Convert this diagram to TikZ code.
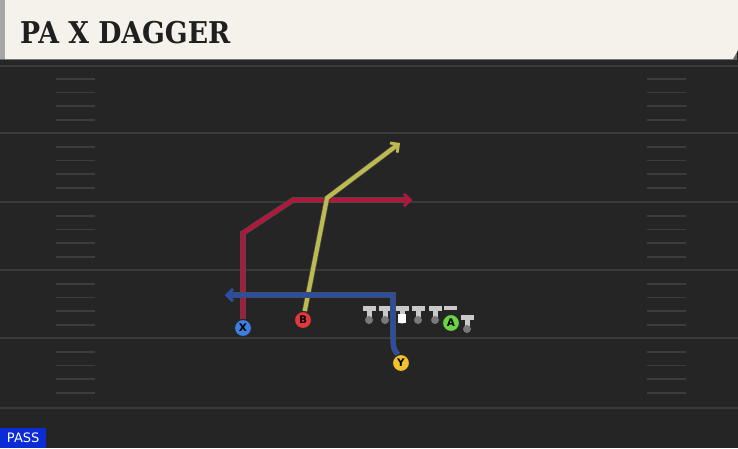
\documentclass[tikz,border=0pt]{standalone}
\usepackage{fontspec}
\newfontfamily\titlefont{DejaVu Serif}
\newfontfamily\tagfont{DejaVu Sans}
\usepackage{tikz}
\usetikzlibrary{arrows.meta,calc}

\definecolor{fieldbg}{HTML}{252525}
\definecolor{yardline}{HTML}{3A3A3A}
\definecolor{hashline}{HTML}{3C3C3C}
\definecolor{cream}{HTML}{F5F2EB}
\definecolor{redroute}{HTML}{B0173A}
\definecolor{yelroute}{HTML}{BDBA50}
\definecolor{bluroute}{HTML}{2A4EA6}
\definecolor{xblue}{HTML}{3D7FE0}
\definecolor{bred}{HTML}{E2383C}
\definecolor{yyellow}{HTML}{F0C22E}
\definecolor{agreen}{HTML}{6BD443}
\definecolor{linegray}{HTML}{C9C9C9}
\definecolor{passblue}{HTML}{0A2BD6}

\pgfdeclarelayer{field}
\pgfdeclarelayer{routes}
\pgfsetlayers{field,routes,main}

\begin{document}
\begin{tikzpicture}[
  x=1pt, y=-1pt,
  player/.style={circle, draw=black!85, line width=1pt, minimum size=17pt, inner sep=0pt, font=\tagfont\bfseries\fontsize{10.5}{10.5}\selectfont},
  route/.style={line width=4.2pt, line join=miter, preaction={draw=black!70, line width=5.6pt}},
  >={Straight Barb[length=6pt,width=12pt,line width=2.8pt 0]}
]

\useasboundingbox (0,0) rectangle (738,448);

\begin{pgfonlayer}{field}
% Field
\fill[fieldbg] (0,0) rectangle (738,448);
\fill[black!85] (0,58) rectangle (738,66);

% Yard lines
\foreach \yy in {66,133,202,270,338,408}
  \draw[yardline, line width=1.8pt] (0,\yy) -- (738,\yy);

% Hash marks
\foreach \yy in {65,133,202,270,338}
  \foreach \dd in {14,27.5,41,55} {
    \draw[hashline, line width=1.4pt] (56,\yy+\dd) -- (95,\yy+\dd);
    \draw[hashline, line width=1.4pt] (647,\yy+\dd) -- (686,\yy+\dd);
  }

% Header
\fill[black!60] (0,0) rectangle (737,60);
\fill[cream] (5,0) -- (738,0) -- (738,50) -- (733,59) -- (5,59) -- cycle;
\fill[black!35] (0,0) rectangle (5,59);

% Offensive line
\foreach \lx/\ly in {369/306, 385/306, 402/306, 418/306, 435/306, 467/315} {
  \fill[linegray] (\lx-6.5,\ly) rectangle (\lx+6.5,\ly+5);
  \fill[linegray] (\lx-2.5,\ly) rectangle (\lx+2.5,\ly+13);
  \fill[black!40!linegray] (\lx,\ly+14) circle (4);
}
\fill[white] (397.5,314) rectangle (405.5,323);
\fill[linegray] (444,306) rectangle (457,309.5);
\end{pgfonlayer}

\node[anchor=base west, inner sep=0pt, xscale=0.89, font=\titlefont\bfseries\fontsize{30}{30}\selectfont, text=black!88] (title) at (20,43) {PA X DAGGER};

% Pass tag
\node[anchor=south west, fill=passblue, text=white, inner sep=2pt, minimum height=20pt, minimum width=46pt, font=\tagfont\fontsize{13}{13}\selectfont] (tag) at (0,448) {PASS};

% Route corners
\coordinate (Xc1) at (243,233);
\coordinate (Xc2) at (293,200);
\coordinate (Xend) at (412,200);
\coordinate (Bc1) at (327,198);
\coordinate (Bend) at (400,143);
\coordinate (Yc1) at (393,338);
\coordinate (Yc2) at (393,295);
\coordinate (Yend) at (225,295);

% Players
\node[player, fill=xblue] (X) at (243,328) {X};
\node[player, fill=bred] (B) at (303,320) {B};
\node[player, fill=yyellow] (Y) at (401,363) {Y};
\node[player, fill=agreen] (A) at (451,323) {A};

% Routes
\begin{pgfonlayer}{routes}
\draw[route, redroute, ->] (X) -- (Xc1) -- (Xc2) -- (Xend);
\draw[route, yelroute, ->] (B) -- (Bc1) -- (Bend);
\draw[route, bluroute, ->] (Y.110) .. controls (393.5,349) .. (Yc1) -- (Yc2) -- (Yend);
\end{pgfonlayer}

\end{tikzpicture}
\end{document}
